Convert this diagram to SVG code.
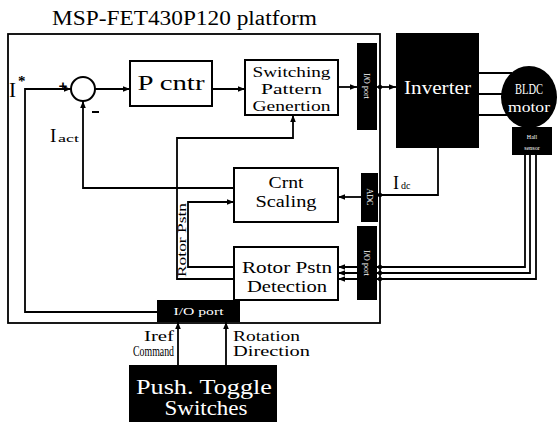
<svg xmlns="http://www.w3.org/2000/svg" width="558" height="423" viewBox="0 0 558 423">
<defs>
<marker id="ah" viewBox="0 0 10 10" refX="10" refY="5" markerWidth="7" markerHeight="7" markerUnits="userSpaceOnUse" orient="auto">
<path d="M0,1 L10,5 L0,9 z" fill="#000"/>
</marker>
</defs>
<style>
.ln{fill:none;stroke:#000;stroke-width:1.8}
.ar{marker-end:url(#ah)}
.bx{fill:#fff;stroke:#000;stroke-width:2}
.blk{fill:#000}
.t{font-family:"Liberation Serif",serif;fill:#000}
.w{font-family:"Liberation Serif",serif;fill:#fff}
.m{font-family:"Liberation Mono",monospace}
.s{font-family:"Liberation Serif",serif;fill:#000}
.dot{fill:#000}
</style>
<rect width="558" height="423" fill="#fff"/>
<text class="t" x="52" y="25" font-size="20" textLength="265" lengthAdjust="spacingAndGlyphs">MSP-FET430P120 platform</text>

<g id="platform">
<rect x="8" y="34" width="372" height="289" fill="none" stroke="#000" stroke-width="1.8"/>
</g>

<g id="connectors">
<path class="ln ar" d="M157,312 H25 V89 H71"/>
<path class="ln ar" d="M95,89 H130"/>
<path class="ln ar" d="M212,89 H245"/>
<path class="ln ar" d="M338,87 H357"/>
<path class="ln ar" d="M377,87 H396"/>
<path class="ln" d="M479,73 H512 M479,94 H510 M479,115 H512"/>
<path class="ln" d="M438,148 V195 H378"/>
<path class="ln ar" d="M361,197 H338"/>
<path class="ln ar" d="M234,188 H83 V101"/>
<path class="ln ar" d="M234,279 H177 V138 H293 V115"/>
<path class="ln ar" d="M234,267 H188 V202 H234"/>
<path class="ln ar" d="M525,155 V267 H338"/>
<path class="ln ar" d="M530,155 V273 H338"/>
<path class="ln ar" d="M536,155 V279 H338"/>
<path class="ln ar" d="M178,365 V322"/>
<path class="ln ar" d="M226,365 V322"/>
<circle class="dot" cx="380" cy="87" r="2.2"/>
<circle class="dot" cx="380" cy="195" r="2.2"/>
<circle class="dot" cx="380" cy="267" r="2.2"/>
<circle class="dot" cx="380" cy="273" r="2.2"/>
<circle class="dot" cx="380" cy="279" r="2.2"/>
</g>

<g id="iref_input">
<text class="s" x="9" y="97" font-size="21">I</text>
<text class="s" x="18" y="86" font-size="15" font-weight="bold">*</text>
</g>

<g id="sum">
<circle cx="83" cy="89" r="12" fill="#fff" stroke="#000" stroke-width="2"/>
<text class="t m" x="63" y="91" font-size="15" text-anchor="middle" font-weight="bold">+</text>
<path d="M92,112 H99" stroke="#000" stroke-width="2"/>
</g>

<g id="iact_label">
<text class="s" x="50" y="142" font-size="19">I</text>
<text class="t" x="58" y="142" font-size="11" textLength="21" lengthAdjust="spacingAndGlyphs">act</text>
</g>

<g id="p_cntr">
<rect class="bx" x="130" y="61" width="82" height="45"/>
<text class="t" x="171" y="90" font-size="21" text-anchor="middle" textLength="67" lengthAdjust="spacingAndGlyphs">P cntr</text>
</g>

<g id="switching">
<rect class="bx" x="245" y="60" width="93" height="55"/>
<text class="t" x="291.5" y="77" font-size="15" text-anchor="middle" textLength="78" lengthAdjust="spacingAndGlyphs">Switching</text>
<text class="t" x="291.5" y="94" font-size="15" text-anchor="middle" textLength="61" lengthAdjust="spacingAndGlyphs">Pattern</text>
<text class="t" x="291.5" y="111" font-size="15" text-anchor="middle" textLength="78" lengthAdjust="spacingAndGlyphs">Genertion</text>
</g>

<g id="crnt_scaling">
<rect class="bx" x="234" y="168" width="104" height="54"/>
<text class="t" x="286" y="188" font-size="16" text-anchor="middle" textLength="35" lengthAdjust="spacingAndGlyphs">Crnt</text>
<text class="t" x="286" y="207" font-size="16" text-anchor="middle" textLength="61" lengthAdjust="spacingAndGlyphs">Scaling</text>
</g>

<g id="rotor_detection">
<rect class="bx" x="234" y="247" width="104" height="53"/>
<text class="t" x="287" y="273" font-size="16" text-anchor="middle" textLength="90" lengthAdjust="spacingAndGlyphs">Rotor Pstn</text>
<text class="t" x="287" y="292" font-size="16" text-anchor="middle" textLength="80" lengthAdjust="spacingAndGlyphs">Detection</text>
</g>

<g id="rotor_pstn_label">
<text class="t" transform="translate(186,240) rotate(-90)" font-size="12" text-anchor="middle" textLength="74" lengthAdjust="spacingAndGlyphs">Rotor Pstn</text>
</g>

<g id="io_port_top">
<rect class="blk" x="357" y="43" width="20" height="87"/>
<text class="w" transform="translate(364,86) rotate(90)" font-size="8" text-anchor="middle">I/O port</text>
</g>

<g id="adc">
<rect class="blk" x="361" y="173" width="17" height="49"/>
<text class="w" transform="translate(366.5,197) rotate(90)" font-size="8" text-anchor="middle">ADC</text>
</g>

<g id="io_port_right">
<rect class="blk" x="357" y="226" width="20" height="74"/>
<text class="w" transform="translate(364,263) rotate(90)" font-size="8" text-anchor="middle">I/O port</text>
</g>

<g id="io_port_bottom">
<rect class="blk" x="157" y="300" width="83" height="22"/>
<text class="w" x="198.5" y="315" font-size="11" text-anchor="middle" textLength="50" lengthAdjust="spacingAndGlyphs">I/O port</text>
</g>

<g id="inverter">
<rect class="blk" x="396" y="33" width="83" height="115"/>
<text class="w" x="437.5" y="94" font-size="19" text-anchor="middle" textLength="67" lengthAdjust="spacingAndGlyphs">Inverter</text>
</g>

<g id="idc_label">
<text class="s" x="393" y="189" font-size="18">I</text>
<text class="t" x="401" y="189" font-size="10">dc</text>
</g>

<g id="motor">
<ellipse class="blk" cx="529" cy="97" rx="28" ry="31"/>
<text class="w" x="529" y="94" font-size="15" text-anchor="middle" textLength="28" lengthAdjust="spacingAndGlyphs">BLDC</text>
<text class="w" x="529" y="112" font-size="15" text-anchor="middle" textLength="42" lengthAdjust="spacingAndGlyphs">motor</text>
</g>

<g id="sensor">
<rect class="blk" x="512" y="127" width="40" height="28"/>
<text class="w" x="532" y="139" font-size="6" text-anchor="middle">Hall</text>
<text class="w" x="532" y="150" font-size="6" text-anchor="middle">sensor</text>
</g>

<g id="labels_bottom">
<text class="t" x="174" y="341" font-size="14" text-anchor="end" textLength="30" lengthAdjust="spacingAndGlyphs">Iref</text>
<text class="t" x="174" y="356" font-size="14" text-anchor="end" textLength="41" lengthAdjust="spacingAndGlyphs">Command</text>
<text class="t" x="233" y="341" font-size="14" textLength="67" lengthAdjust="spacingAndGlyphs">Rotation</text>
<text class="t" x="233" y="356" font-size="14" textLength="77" lengthAdjust="spacingAndGlyphs">Direction</text>
</g>

<g id="switches">
<rect class="blk" x="129" y="365" width="148" height="57"/>
<text class="w" x="204" y="394" font-size="20" text-anchor="middle" textLength="136" lengthAdjust="spacingAndGlyphs">Push. Toggle</text>
<text class="w" x="206" y="415" font-size="20" text-anchor="middle" textLength="83" lengthAdjust="spacingAndGlyphs">Switches</text>
</g>
</svg>
